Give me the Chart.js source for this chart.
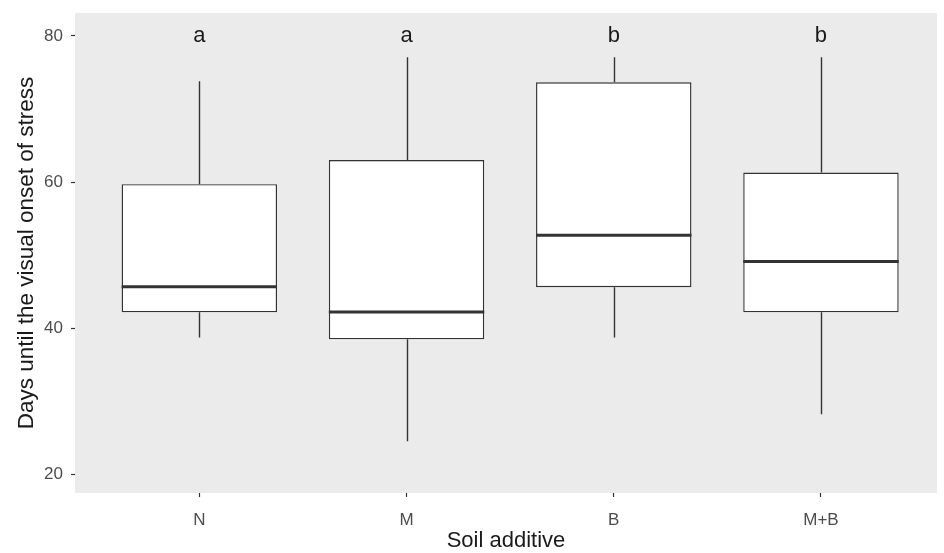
<!DOCTYPE html>
<html>
<head>
<meta charset="utf-8">
<script src="https://cdn.jsdelivr.net/npm/chart.js@4.4.1/dist/chart.umd.min.js"></script>
<style>
  html, body { margin: 0; padding: 0; background: #ffffff; }
  #wrap { width: 944px; height: 553px; }
</style>
</head>
<body>
<div id="wrap"><canvas id="c" width="944" height="553"></canvas></div>
<script>
// ---- data ----
const categories = ["N", "M", "B", "M+B"];
const whiskerLow  = [38.7, 24.5, 38.7, 28.2];
const quartile1   = [42.15, 38.45, 45.6, 42.15];
const medians     = [45.65, 42.2, 52.7, 49.1];
const quartile3   = [59.7, 63.0, 73.65, 61.3];
const whiskerHigh = [73.8, 77.1, 77.1, 77.1];
const groupLetters = ["a", "a", "b", "b"];
const letterLevel = 80;
const yTicks = [20, 40, 60, 80];

const FONT = "'Liberation Sans', Arial, sans-serif";
const LINE = '#333333';

const boxData = categories.map((c, i) => ({ x: i + 1, y: [quartile1[i], quartile3[i]] }));

const panelBg = {
  id: 'panelBg',
  beforeDraw(chart) {
    const { ctx, chartArea: a } = chart;
    ctx.save();
    ctx.fillStyle = '#ffffff';
    ctx.fillRect(0, 0, chart.width, chart.height);
    ctx.fillStyle = '#EBEBEB';
    ctx.fillRect(a.left, a.top, a.right - a.left, a.bottom - a.top);
    ctx.restore();
  }
};

const boxExtras = {
  id: 'boxExtras',
  beforeDatasetsDraw(chart) {
    const { ctx } = chart;
    const ys = chart.scales.y;
    const meta = chart.getDatasetMeta(0);
    ctx.save();
    ctx.strokeStyle = LINE;
    ctx.lineWidth = 1.4;
    meta.data.forEach((bar, i) => {
      const x = Math.round(bar.x) + 0.5;
      ctx.beginPath();
      ctx.moveTo(x, ys.getPixelForValue(whiskerHigh[i]));
      ctx.lineTo(x, ys.getPixelForValue(quartile3[i]));
      ctx.moveTo(x, ys.getPixelForValue(quartile1[i]));
      ctx.lineTo(x, ys.getPixelForValue(whiskerLow[i]));
      ctx.stroke();
    });
    ctx.restore();
  },
  afterDatasetsDraw(chart) {
    const { ctx } = chart;
    const ys = chart.scales.y;
    const meta = chart.getDatasetMeta(0);
    ctx.save();
    meta.data.forEach((bar, i) => {
      const half = bar.width / 2;
      const y = ys.getPixelForValue(medians[i]);
      ctx.strokeStyle = LINE;
      ctx.lineWidth = 3;
      ctx.beginPath();
      ctx.moveTo(bar.x - half, y);
      ctx.lineTo(bar.x + half, y);
      ctx.stroke();
      ctx.fillStyle = '#1a1a1a';
      ctx.font = '22px ' + FONT;
      ctx.textAlign = 'center';
      ctx.textBaseline = 'alphabetic';
      ctx.fillText(groupLetters[i], bar.x, ys.getPixelForValue(letterLevel) + 6);
    });
    ctx.restore();
  }
};

new Chart(document.getElementById('c'), {
  type: 'bar',
  data: {
    datasets: [{
      data: boxData,
      backgroundColor: '#ffffff',
      borderColor: LINE,
      borderWidth: 1.4,
      borderSkipped: false,
      categoryPercentage: 1,
      barPercentage: 0.75
    }]
  },
  options: {
    responsive: false,
    animation: false,
    devicePixelRatio: 1,
    layout: { padding: { top: 13, right: 7, left: 0, bottom: 0 } },
    plugins: { legend: { display: false }, tooltip: { enabled: false } },
    scales: {
      x: {
        type: 'linear',
        offset: false,
        min: 0.4,
        max: 4.56,
        afterBuildTicks: s => { s.ticks = categories.map((c, i) => ({ value: i + 1 })); },
        afterFit: s => { s.height = 60; s.paddingLeft = 0; s.paddingRight = 0; },
        ticks: {
          callback: v => categories[Math.round(v) - 1] || '',
          color: '#4D4D4D',
          font: { family: FONT, size: 17 },
          padding: 13,
          maxRotation: 0,
          autoSkip: false
        },
        grid: { display: true, offset: false, drawOnChartArea: false, drawTicks: true, tickLength: 4, tickColor: LINE, tickWidth: 1.2 },
        border: { display: false },
        title: {
          display: true,
          text: 'Soil additive',
          color: '#1a1a1a',
          font: { family: FONT, size: 22, lineHeight: 1 },
          padding: { top: 0, bottom: 1 }
        }
      },
      y: {
        type: 'linear',
        min: 17.4,
        max: 83.15,
        afterBuildTicks: s => { s.ticks = yTicks.map(v => ({ value: v })); },
        afterFit: s => { s.width = 75; s.paddingTop = 0; s.paddingBottom = 0; },
        ticks: {
          color: '#4D4D4D',
          font: { family: FONT, size: 17 },
          padding: 8
        },
        grid: { display: true, drawOnChartArea: false, drawTicks: true, tickLength: 4, tickColor: LINE, tickWidth: 1.2 },
        border: { display: false },
        title: {
          display: true,
          text: 'Days until the visual onset of stress',
          color: '#1a1a1a',
          font: { family: FONT, size: 22.5, lineHeight: 1 },
          padding: { top: 16, bottom: 0 }
        }
      }
    }
  },
  plugins: [panelBg, boxExtras]
});
</script>
</body>
</html>
